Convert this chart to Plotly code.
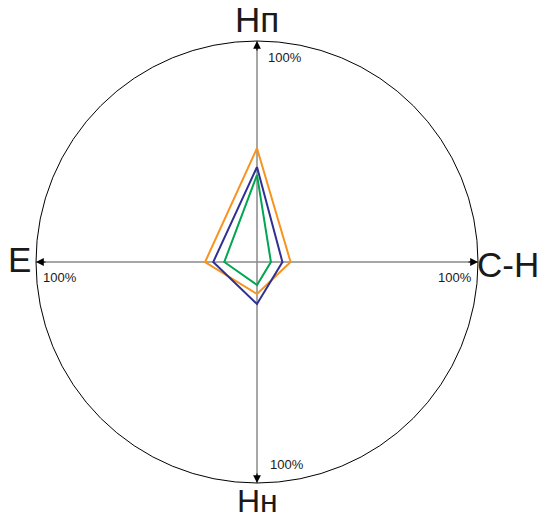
import plotly.graph_objects as go

# Data (percent of full scale along each axis)
axes_labels = ["Нп", "С-Н", "Нн", "Е"]   # up, right, down, left
series_names = ["Series 1", "Series 2", "Series 3"]
orange_vals = [51.5, 15.2, 14.5, 23.5]
blue_vals = [43.0, 11.5, 19.0, 19.8]
green_vals = [39.4, 6.3, 10.4, 14.8]
tick_label = "100%"

colors = ["#F7931E", "#2E3192", "#00A651"]
series = [orange_vals, blue_vals, green_vals]

# direction vectors for each axis (up, right, down, left)
dirs = [(0, 1), (1, 0), (0, -1), (-1, 0)]

fig = go.Figure()

for vals, col, name in zip(series, colors, series_names):
    xs = [dx * v / 100 for (dx, dy), v in zip(dirs, vals)]
    ys = [dy * v / 100 for (dx, dy), v in zip(dirs, vals)]
    xs.append(xs[0]); ys.append(ys[0])
    fig.add_trace(go.Scatter(x=xs, y=ys, mode="lines", name=name,
                             line=dict(color=col, width=2), showlegend=False,
                             hoverinfo="skip"))

shapes = [
    dict(type="circle", xref="x", yref="y", x0=-1, y0=-1, x1=1, y1=1,
         line=dict(color="#000000", width=1)),
    dict(type="line", xref="x", yref="y", x0=-1, y0=0, x1=1, y1=0,
         line=dict(color="#8a8a8a", width=1.5), layer="below"),
    dict(type="line", xref="x", yref="y", x0=0, y0=-1, x1=0, y1=1,
         line=dict(color="#8a8a8a", width=1.5), layer="below"),
]

annotations = []
# arrowheads
for dx, dy in dirs:
    annotations.append(dict(x=dx * 1.0, y=dy * 1.0, ax=dx * 0.95, ay=dy * 0.95,
                            xref="x", yref="y", axref="x", ayref="y",
                            showarrow=True, arrowhead=2, arrowsize=1.3,
                            arrowwidth=1.2, arrowcolor="#000000", text=""))

# axis titles
title_pos = [(0, 1.097, 35), (1.137, -0.01, 35), (0, -1.0814, 32), (-1.075, 0.01, 35)]
for (x, y, fs), lab in zip(title_pos, axes_labels):
    annotations.append(dict(x=x, y=y, xref="x", yref="y", text=lab, showarrow=False,
                            xanchor="center", yanchor="middle", borderpad=0,
                            font=dict(family="Liberation Sans, Arial", size=fs, color="#1a1a1a")))

# 100% labels
pct_pos = [(0.127, 0.925), (0.896, -0.072), (0.135, -0.915), (-0.891, -0.068)]
for x, y in pct_pos:
    annotations.append(dict(x=x, y=y, xref="x", yref="y", text=tick_label, showarrow=False,
                            xanchor="center", yanchor="middle",
                            font=dict(family="Liberation Sans, Arial", size=13, color="#1a1a1a")))

R = 221.0
cx, cy = 257.0, 262.0
W, H = 538, 519
fig.update_layout(
    width=W, height=H,
    margin=dict(l=0, r=0, t=0, b=0),
    paper_bgcolor="white", plot_bgcolor="white",
    xaxis=dict(range=[-cx / R, (W - cx) / R], visible=False, fixedrange=True),
    yaxis=dict(range=[-(H - cy) / R, cy / R], visible=False, fixedrange=True),
    shapes=shapes, annotations=annotations,
)

fig.write_html("out.html", config={"displayModeBar": False},
               post_script="document.body.style.margin='0';document.body.style.overflow='hidden';")
